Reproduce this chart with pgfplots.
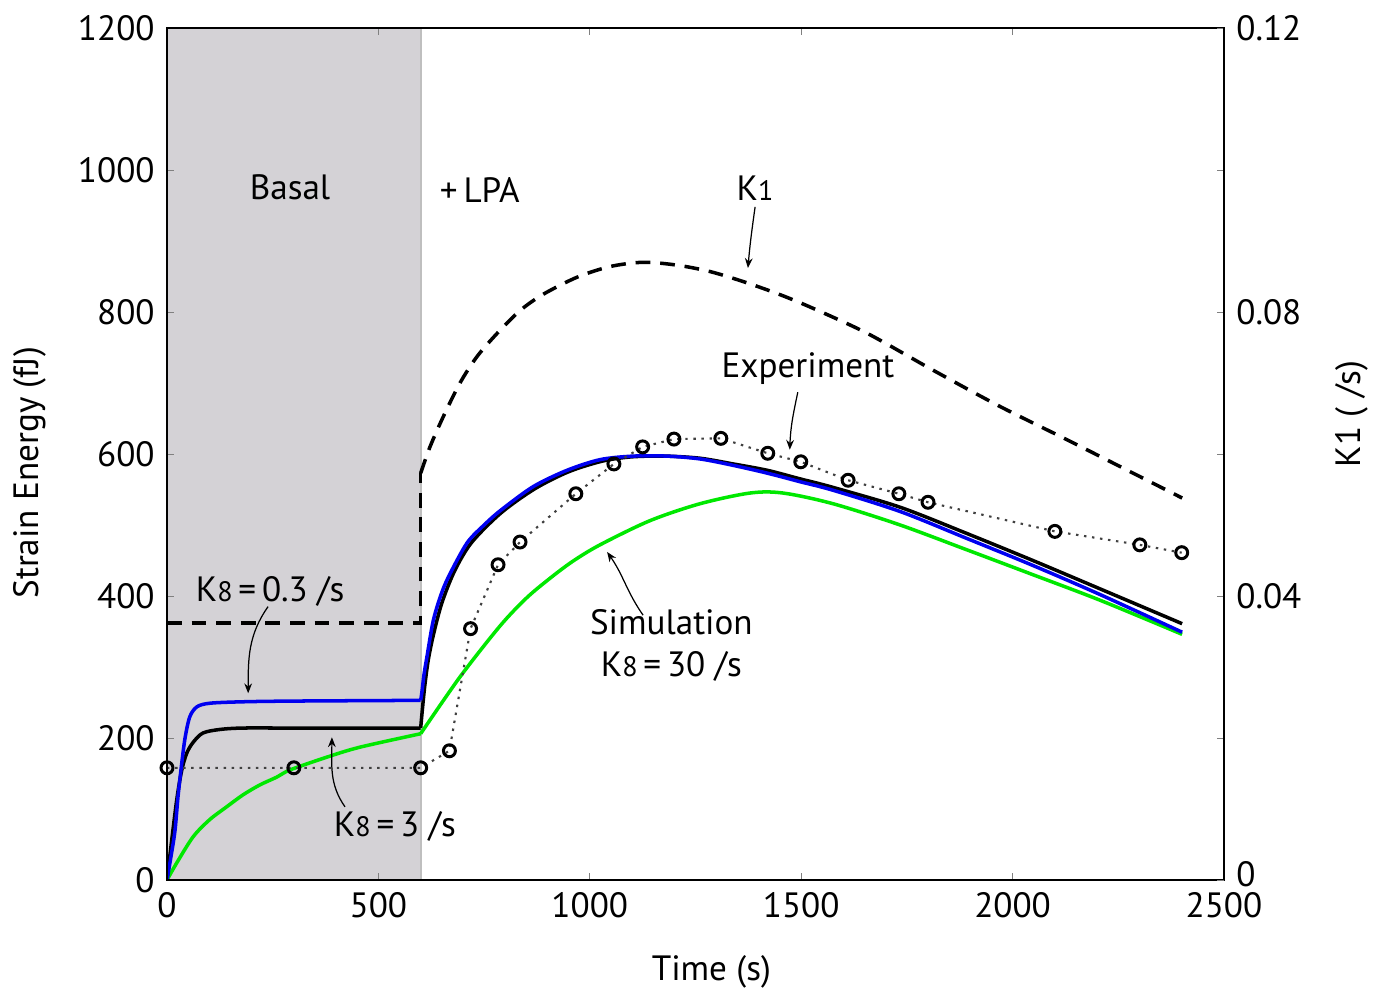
\documentclass[border=0pt]{standalone}
\usepackage{fontspec}
\setmainfont{PT Sans}
\usepackage{pgfplots}
\pgfplotsset{compat=1.18}
\usetikzlibrary{arrows.meta}

\definecolor{shade}{RGB}{212,210,214}
\definecolor{simgreen}{RGB}{0,232,0}
\definecolor{simblue}{RGB}{0,0,240}

\newcommand{\Ks}[1]{K{\footnotesize #1}}

\tikzset{arr/.style={-{Stealth[length=2.8pt,width=2.2pt]}, line width=0.35pt}}
\pgfplotsset{
  myaxis/.style={
    scale only axis, width=10.57cm, height=8.52cm,
    xmin=0, xmax=2500,
    tick align=inside, major tick length=0.7mm,
    tick label style={font=\fontsize{10}{12}\selectfont},
    /pgf/number format/assume math mode=true,
    /pgf/number format/1000 sep={},
  },
}

\begin{document}
\fontsize{10}{12}\selectfont
\begin{tikzpicture}
\useasboundingbox (-1.67cm,-1.13cm) rectangle (12.06cm,8.80cm);
% left axis: strain energy
\begin{axis}[myaxis,
  ymin=0, ymax=1200,
  xtick={0,500,1000,1500,2000,2500},
  ytick={0,200,400,600,800,1000,1200},
  ytick pos=left, xtick pos=both,
  axis line style={line width=0.8pt},
  axis on top,
  xlabel={Time (s)}, ylabel={Strain Energy (fJ)},
  every axis x label/.style={at={(axis description cs:0.515,-0.108)}, anchor=center},
  every axis y label/.style={at={(axis description cs:-0.1296,0.478)}, rotate=90, anchor=center},
]
  % basal period shading
  \addplot[fill=shade, draw=none] coordinates {(0,1200) (600,1200)} \closedcycle;
  \addplot[black!25, line width=0.5pt] coordinates {(600,0) (600,1200)};

  % simulation K8 = 30 /s
  \addplot[simgreen, line width=1pt, smooth] coordinates {
    (0,0)(23,24)(62,61)(101,85)(141,103)(180,120)(220,134)(260,145)(291,155)
    (378,173)(456,187)(600,206)
  };
  \addplot[simgreen, line width=1pt, smooth] coordinates {
    (600,206)(693,286)(788,358)(850,397)(906,425)(960,449)(1024,472)(1142,506)
    (1261,530)(1379,545)(1457,545)(1575,530)(1734,500)(1892,465)(2048,430)
    (2207,394)(2401,346)
  };
  % simulation K8 = 3 /s
  \addplot[black, line width=1pt, smooth] coordinates {
    (0,0)(14,70)(24,117)(35,155)(47,179)(62,194)(85,207)(125,212)(180,214)
    (300,214)(600,214)
  };
  \addplot[black, line width=1pt, smooth] coordinates {
    (600,214)(604,240)(610,275)(618,310)(630,345)(650,390)(680,435)
    (720,475)(790,517)(870,551)(950,575)(1030,590)(1100,596)(1180,597)
    (1261,594)(1339,586)(1420,577)(1497,565)(1575,553)(1734,525)(1892,488)
    (2048,450)(2207,410)(2401,361)
  };
  % simulation K8 = 0.3 /s
  \addplot[simblue, line width=1pt, smooth] coordinates {
    (0,0)(10,35)(19,70)(26,117)(35,165)(43,201)(54,230)(71,244)(102,249)
    (180,251)(300,252)(600,253)
  };
  \addplot[simblue, line width=1pt, smooth] coordinates {
    (600,253)(603,265)(608,290)(615,315)(630,366)(650,405)
    (670,432)(710,475)(750,500)(790,521)(866,554)(946,577)(1024,592)(1102,597)
    (1183,597)(1261,593)(1339,584)(1420,573)(1497,561)(1575,549)(1734,519)
    (1892,481)(2048,443)(2207,402)(2401,349)
  };
  % experiment
  \addplot[black!75, line width=0.6pt, dash pattern=on 0.7pt off 1.6pt,
    mark=o, mark size=1.7pt, mark options={solid, black, line width=0.85pt}] coordinates {
    (0,158)(300,158)(600,158)(668,182)(718,354)(783,444)(835,476)(967,544)
    (1057,586)(1125,610)(1199,621)(1310,622)(1421,601)(1499,589)(1611,563)
    (1731,544)(1800,532)(2100,491)(2301,472)(2400,461)
  };

  % annotations
  \node at (axis cs:291,976) {Basal};
  \node at (axis cs:740,972) {+\,LPA};
  \node at (axis cs:1391,975) {\Ks{1}};
  \draw[arr] (axis cs:1391,948) to[out=262,in=85] (axis cs:1374,862);
  \node at (axis cs:1516,721) {Experiment};
  \draw[arr] (axis cs:1492,687) to[out=258,in=88] (axis cs:1473,606);
  \node at (axis cs:244,407) {\Ks{8}\,=\,0.3 /s};
  \draw[arr] (axis cs:239,385) to[out=235,in=90] (axis cs:192,263);
  \node at (axis cs:539,76) {\Ks{8}\,=\,3 /s};
  \draw[arr] (axis cs:421,103) to[out=125,in=270] (axis cs:390,201);
  \node[align=center, inner sep=0pt] at (axis cs:1193,330) {Simulation\\\Ks{8}\,=\,30 /s};
  \draw[arr] (axis cs:1126,373) to[out=125,in=305] (axis cs:1041,462);
\end{axis}

% right axis: K1
\begin{axis}[myaxis,
  ymin=0, ymax=0.12,
  axis x line=none, axis y line*=right,
  axis line style={line width=0.8pt},
  ytick={0,0.02,0.04,0.06,0.08,0.1,0.12},
  yticklabels={\raisebox{0.7ex}{0},,0.04,,0.08,,0.12},
  ylabel={K1 ( /s)},
  every axis y label/.style={at={(axis description cs:1.121,0.547)}, rotate=90, anchor=center},
]
  \addplot[black, line width=1pt, dash pattern=on 4.2pt off 2.8pt] coordinates {
    (0,0.0362)(600,0.0362)(600,0.0573)
  };
  \addplot[black, line width=1pt, dash pattern=on 4.2pt off 2.8pt, smooth] coordinates {
    (600,0.0573)(622,0.0610)(653,0.0652)(693,0.0700)
    (733,0.0737)(781,0.0770)(835,0.0802)(890,0.0825)(970,0.0849)(1048,0.0864)
    (1126,0.0870)(1206,0.0866)(1284,0.0857)(1362,0.0843)(1443,0.0826)
    (1521,0.0807)(1656,0.0770)(1812,0.0718)(1970,0.0667)(2129,0.0620)
    (2285,0.0573)(2401,0.0538)
  };
\end{axis}
\end{tikzpicture}
\end{document}
